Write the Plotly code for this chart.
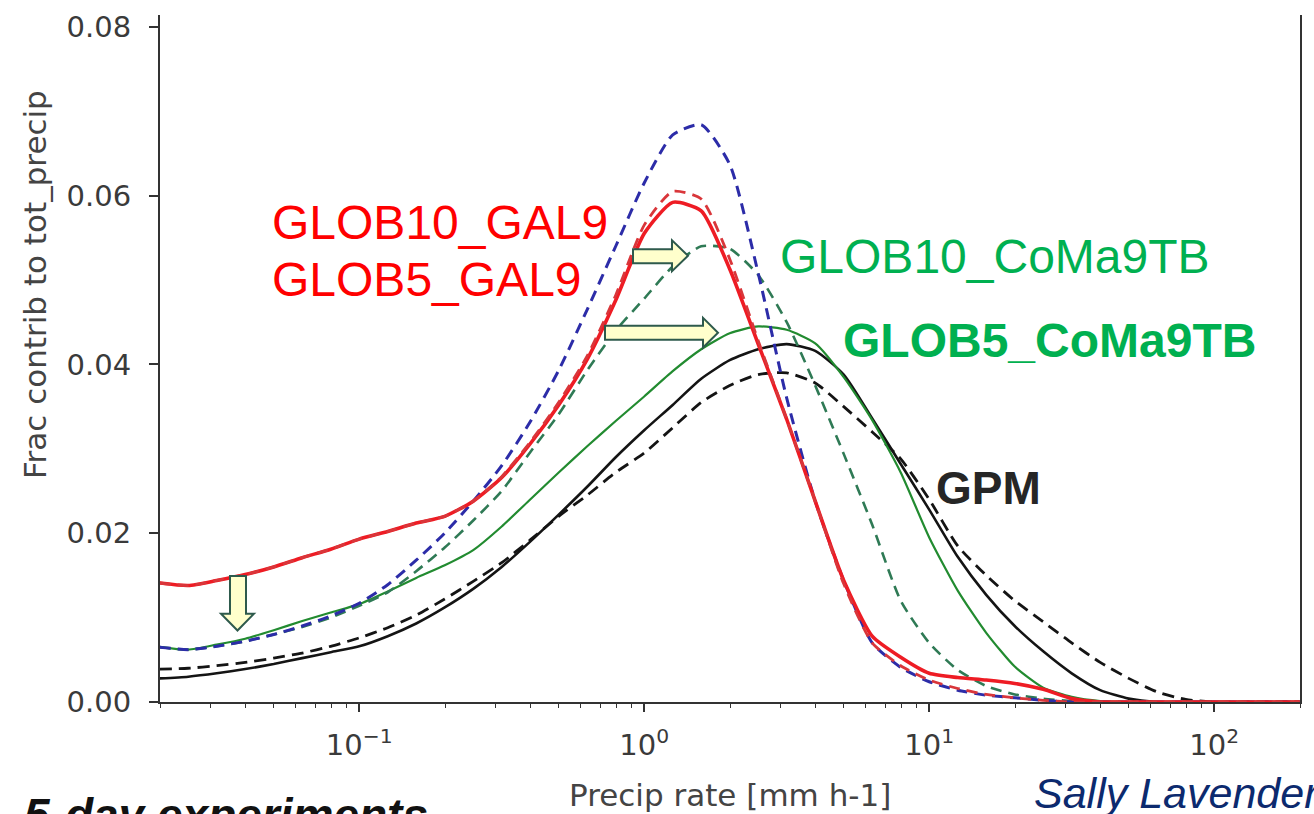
import math
import plotly.graph_objects as go

# ---------------- data ----------------
log10_rate = [-1.7, -1.6, -1.5, -1.4, -1.3, -1.2, -1.1, -1.0, -0.9, -0.8,
              -0.7, -0.6, -0.5, -0.4, -0.3, -0.2, -0.1, 0.0, 0.1, 0.2,
              0.3, 0.4, 0.5, 0.6, 0.7, 0.8, 0.9, 1.0, 1.1, 1.2,
              1.3, 1.4, 1.5, 1.6, 1.7, 1.8, 1.9, 2.0, 2.1, 2.2, 2.3]
precip_rate = [10 ** v for v in log10_rate]

glob5_gal9 = [0.0141, 0.0138, 0.0144, 0.0151, 0.0160, 0.0171, 0.0181, 0.0193, 0.0202, 0.0212,
              0.0220, 0.0238, 0.0266, 0.0306, 0.0352, 0.0406, 0.0476, 0.0555, 0.0592, 0.0582,
              0.0513, 0.0424, 0.0335, 0.0238, 0.0144, 0.0078, 0.0053, 0.0034, 0.0029, 0.0026,
              0.0022, 0.0015, 0.0004, 0, 0, 0, 0, 0, 0, 0, 0]
glob10_gal9 = [0.0141, 0.0138, 0.0144, 0.0151, 0.0160, 0.0171, 0.0181, 0.0193, 0.0202, 0.0212,
               0.0220, 0.0238, 0.0267, 0.0308, 0.0355, 0.0410, 0.0482, 0.0565, 0.0605, 0.0596,
               0.0525, 0.0428, 0.0335, 0.0238, 0.0140, 0.0070, 0.0043, 0.0026, 0.0016, 0.0009,
               0.0005, 0.0002, 0, 0, 0, 0, 0, 0, 0, 0, 0]
blue_run = [0.0065, 0.0062, 0.0066, 0.0072, 0.0080, 0.0090, 0.0102, 0.0117, 0.0139, 0.0168,
            0.0200, 0.0238, 0.0280, 0.0332, 0.0393, 0.0465, 0.0540, 0.0615, 0.0672, 0.0684,
            0.0637, 0.0508, 0.0360, 0.0238, 0.0144, 0.0070, 0.0041, 0.0024, 0.0014, 0.0008,
            0.0005, 0.0002, 0, 0, 0, 0, 0, 0, 0, 0, 0]
glob10_coma9tb = [0.0065, 0.0062, 0.0066, 0.0072, 0.0080, 0.0089, 0.0100, 0.0114, 0.0130, 0.0155,
                  0.0183, 0.0215, 0.0250, 0.0296, 0.0341, 0.0393, 0.0440, 0.0478, 0.0516, 0.0540,
                  0.0537, 0.0506, 0.0450, 0.0375, 0.0294, 0.0210, 0.0120, 0.0070, 0.0038, 0.0019,
                  0.0009, 0.0004, 0.0001, 0, 0, 0, 0, 0, 0, 0, 0]
glob5_coma9tb = [0.0065, 0.0062, 0.0068, 0.0075, 0.0085, 0.0096, 0.0106, 0.0116, 0.0131, 0.0147,
                 0.0162, 0.0180, 0.0208, 0.0240, 0.0272, 0.0303, 0.0333, 0.0362, 0.0392, 0.0418,
                 0.0437, 0.0445, 0.0441, 0.0425, 0.0385, 0.0334, 0.0272, 0.0195, 0.0132, 0.0082,
                 0.0042, 0.0017, 0.0006, 0.0001, 0, 0, 0, 0, 0, 0, 0]
gpm = [0.0028, 0.0030, 0.0034, 0.0039, 0.0045, 0.0052, 0.0059, 0.0066, 0.0078, 0.0093,
       0.0112, 0.0134, 0.0160, 0.0190, 0.0222, 0.0255, 0.0290, 0.0322, 0.0352, 0.0383,
       0.0405, 0.0418, 0.0424, 0.0416, 0.0388, 0.0336, 0.0282, 0.0228, 0.0172, 0.0127,
       0.0090, 0.0060, 0.0034, 0.0014, 0.0004, 0, 0, 0, 0, 0, 0]
gpm_dashed = [0.0039, 0.0040, 0.0043, 0.0047, 0.0052, 0.0058, 0.0066, 0.0076, 0.0088, 0.0103,
              0.0122, 0.0143, 0.0165, 0.0192, 0.0220, 0.0245, 0.0272, 0.0295, 0.0325, 0.0355,
              0.0375, 0.0388, 0.0390, 0.0378, 0.0350, 0.0320, 0.0288, 0.0240, 0.0185, 0.0150,
              0.0120, 0.0095, 0.0070, 0.0047, 0.0028, 0.0012, 0.0003, 0, 0, 0, 0]

x_tick_vals = [0.1, 1, 10, 100]
x_tick_text = ["10<sup>\u22121</sup>", "10<sup>0</sup>", "10<sup>1</sup>", "10<sup>2</sup>"]
y_tick_vals = [0.00, 0.02, 0.04, 0.06, 0.08]
y_tick_text = ["0.00", "0.02", "0.04", "0.06", "0.08"]
minor_vals = [m * 10 ** d for d in (-2, -1, 0, 1, 2) for m in range(2, 10)]

# ---------------- figure ----------------
W, H = 1314, 814
L, R, T, B = 160, 14, 10, 112
PW, PH = W - L - R, H - T - B


def px(x):
    return (x - L) / PW


def py(y):
    return (T + PH - y) / PH


fig = go.Figure()
series = [
    (gpm, "#141414", 2.6, "solid"),
    (gpm_dashed, "#141414", 2.8, "12px,7px"),
    (glob5_coma9tb, "#228b30", 2.2, "solid"),
    (glob10_coma9tb, "#2f7a55", 2.6, "11px,7px"),
    (blue_run, "#2c2ca8", 3.0, "11px,7px"),
    (glob5_gal9, "#ee1c24", 3.6, "solid"),
    (glob10_gal9, "#d9363a", 2.8, "11px,7px"),
]
for ys, col, w, dash in series:
    fig.add_trace(go.Scatter(x=precip_rate, y=ys, mode="lines",
                             line=dict(color=col, width=w, dash=dash, shape="spline", smoothing=0.6),
                             hoverinfo="skip"))

tick_font = dict(family="DejaVu Sans", size=29, color="#3a3a3a")
fig.update_layout(
    width=W, height=H, margin=dict(l=L, r=R, t=T, b=B),
    plot_bgcolor="white", paper_bgcolor="white", showlegend=False,
    xaxis=dict(type="log", range=[math.log10(0.02), math.log10(200)],
               tickmode="array", tickvals=x_tick_vals, ticktext=x_tick_text,
               ticks="outside", ticklen=8, tickwidth=1.5, tickcolor="#333",
               showline=True, linecolor="#333", linewidth=2,
               showgrid=False, zeroline=False, tickfont=tick_font, ticklabelstandoff=8,
               minor=dict(tickmode="array", tickvals=minor_vals, ticks="outside",
                          ticklen=4, tickwidth=1.2, tickcolor="#333", showgrid=False)),
    yaxis=dict(range=[0, 0.0814], tickmode="array", tickvals=y_tick_vals, ticktext=y_tick_text,
               ticks="outside", ticklen=9, tickwidth=1.5, tickcolor="#333",
               showline=True, mirror=True, linecolor="#333", linewidth=2,
               showgrid=False, zeroline=False, tickfont=tick_font, ticklabelstandoff=12),
)

ann = []
ann.append(dict(text="Frac contrib to tot_precip", x=px(35), y=py(282), textangle=-90,
                font=dict(family="DejaVu Sans", size=31, color="#444")))
ann.append(dict(text="Precip rate [mm h-1]", x=px(730), y=py(796),
                font=dict(family="DejaVu Sans", size=31, color="#444")))
arial = "Liberation Sans, Arial, sans-serif"
ann.append(dict(text="GLOB10_GAL9", x=px(270), y=py(219), xanchor="left",
                font=dict(family=arial, size=48, color="#ff0000")))
ann.append(dict(text="GLOB5_GAL9", x=px(270), y=py(276), xanchor="left",
                font=dict(family=arial, size=48, color="#ff0000")))
ann.append(dict(text="GLOB10_CoMa9TB", x=px(778), y=py(253), xanchor="left",
                font=dict(family=arial, size=48, color="#00b050")))
ann.append(dict(text="<b>GLOB5_CoMa9TB</b>", x=px(841), y=py(338), xanchor="left",
                font=dict(family=arial, size=48, color="#00b050")))
ann.append(dict(text="<b>GPM</b>", x=px(934), y=py(486), xanchor="left",
                font=dict(family=arial, size=46, color="#262626")))
ann.append(dict(text="<b><i>5-day experiments</i></b>", x=px(22), y=py(816), xanchor="left",
                font=dict(family=arial, size=46, color="#111")))
ann.append(dict(text="<i>Sally Lavender</i>", x=px(1032), y=py(794), xanchor="left",
                font=dict(family=arial, size=43, color="#0c2a6e")))
for a in ann:
    a.update(xref="paper", yref="paper", showarrow=False, yanchor="middle")
    a.setdefault("xanchor", "center")
fig.update_layout(annotations=ann)

# block arrows (decoration)
arrows = [
    [(633, 246), (672, 246), (672, 237), (688, 252.5), (672, 268), (672, 260), (633, 260)],
    [(605, 323), (703, 323), (703, 315), (718, 330), (703, 345), (703, 337), (605, 337)],
    [(230, 575), (246, 575), (246, 613), (254, 613), (237.5, 630), (221, 613), (230, 613)],
]
for pts in arrows:
    path = "M " + " L ".join(f"{px(a):.5f},{py(b):.5f}" for a, b in pts) + " Z"
    fig.add_shape(type="path", path=path, xref="paper", yref="paper",
                  fillcolor="#ffffcc", line=dict(color="#2e5a4c", width=2), layer="above")

fig.write_html("out.html")
